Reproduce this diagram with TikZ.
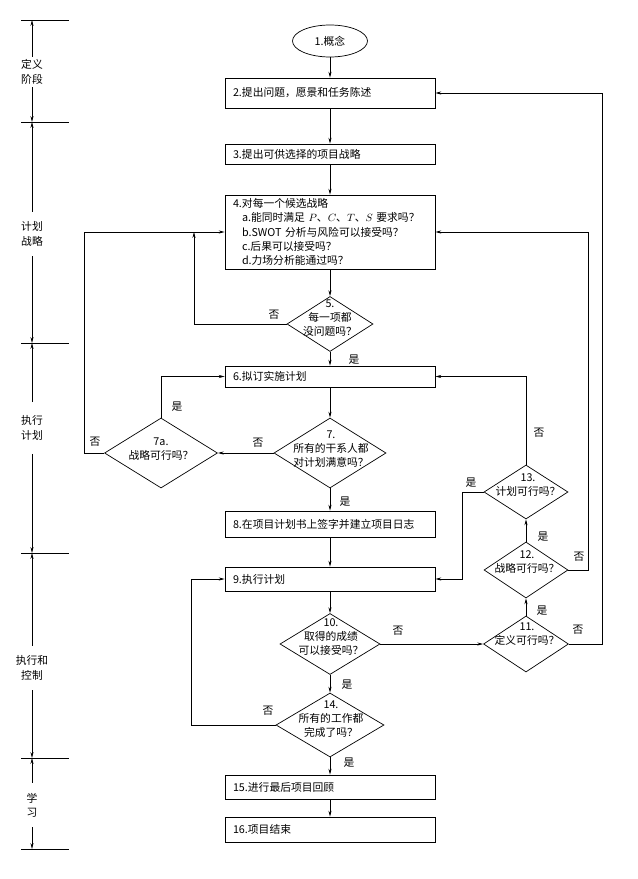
\documentclass[tikz,border=0pt]{standalone}
\usepackage{fontspec}
\setmainfont{Noto Sans CJK SC}
\usepackage{tikz}
\usetikzlibrary{arrows.meta,shapes.geometric}
\newdimen\px
\px=0.03cm

\begin{document}
\begin{tikzpicture}[x=0.03cm, y=-0.03cm, line width=0.6pt,
  font=\fontsize{9.2pt}{12.2pt}\selectfont,
  arr/.style={-{Stealth[length=5pt,width=2.6pt]}},
  box/.style={draw, rectangle, text width=194\px, inner xsep=8\px, inner ysep=0pt, align=left},
  dia/.style={draw, diamond, inner sep=0pt},
  txt/.style={align=center, inner sep=0pt},
  lbl/.style={inner sep=0pt},
  phase/.style={align=center, inner xsep=0pt, inner ysep=0pt, minimum height=44\px}]
\useasboundingbox (0,0) rectangle (637,879);

\foreach \y [count=\i from 0] in {20,122,343,553,758,849}
  {\draw (21,\y) -- (69,\y);
   \coordinate (p\i) at (32,\y);}
\node[phase, minimum height=30\px] (ph1) at (32,72) {定义\\阶段};
\node[phase] (ph2) at (32,234) {计划\\战略};
\node[phase, minimum height=51\px] (ph3) at (32,428) {执行\\计划};
\node[phase] (ph4) at (32,668) {执行和\\控制};
\node[phase] (ph5) at (32,805) {学\\习};
\foreach \a/\b in {ph1/p0, ph1/p1, ph2/p1, ph2/p2, ph3/p2, ph3/p3, ph4/p3, ph4/p4, ph5/p4, ph5/p5}
  \draw[arr] (\a) -- (\b);

\node[draw, ellipse, minimum width=75\px, minimum height=32\px, inner sep=0pt] (e1) at (330,41) {1.概念};
\node[box, minimum height=30\px] (b2) at (330,93) {2.提出问题，愿景和任务陈述};
\node[box, minimum height=20\px] (b3) at (330,154) {3.提出可供选择的项目战略};
\node[box, minimum height=74\px] (b4) at (330,232) {4.对每一个候选战略\\
  \hspace*{9\px}a.能同时满足 $P$、$C$、$T$、$S$ 要求吗？\\
  \hspace*{9\px}b.SWOT 分析与风险可以接受吗？\\
  \hspace*{9\px}c.后果可以接受吗？\\
  \hspace*{9\px}d.力场分析能通过吗？};
\node[box, minimum height=21\px] (b6) at (330,376.5) {6.拟订实施计划};
\node[box, minimum height=26\px] (b8) at (330,524) {8.在项目计划书上签字并建立项目日志};
\node[box, minimum height=24\px] (b9) at (330,579) {9.执行计划};
\node[box, minimum height=24\px] (b15) at (330,787) {15.进行最后项目回顾};
\node[box, minimum height=25\px] (b16) at (330,829.5) {16.项目结束};

\node[dia, minimum width=86\px, minimum height=55\px] (d5) at (330,324) {};
\node[txt] (t5) at (330,318) {5.\\每一项都\\没问题吗？};
\node[dia, minimum width=112\px, minimum height=70\px] (d7) at (330,453) {};
\node[txt] (t7) at (331,449) {7.\\所有的干系人都\\对计划满意吗？};
\node[dia, minimum width=113\px, minimum height=70\px] (d7a) at (161,453) {};
\node[txt] (t7a) at (161,449) {7a.\\战略可行吗？};
\node[dia, minimum width=100\px, minimum height=61\px] (d10) at (330,644) {};
\node[txt] (t10) at (331,637) {10.\\取得的成绩\\可以接受吗？};
\node[dia, minimum width=108\px, minimum height=64\px] (d14) at (330,725) {};
\node[txt] (t14) at (331,719) {14.\\所有的工作都\\完成了吗？};
\node[dia, minimum width=84\px, minimum height=54\px] (d13) at (526,492) {};
\node[txt] (t13) at (528,485) {13.\\计划可行吗？};
\node[dia, minimum width=84\px, minimum height=56\px] (d12) at (526,570) {};
\node[txt] (t12) at (527,562) {12.\\战略可行吗？};
\node[dia, minimum width=85\px, minimum height=56\px] (d11) at (526,644) {};
\node[txt] (t11) at (527,634) {11.\\定义可行吗？};

\foreach \a/\b in {e1/b2, b2/b3, b3/b4, b4/d5, d5/b6, b6/d7, d7/b8, b8/b9, b9/d10, d10/d14, d14/b15, b15/b16, d7/d7a, d10/d11, d11/d12, d12/d13}
  \draw[arr] (\a) -- (\b);

\coordinate (j5) at (194,232);
\draw[arr] (d5.west) -| (j5);
\draw[arr] (d7a.west) -- ++(-20,0) |- (b4.west);
\draw[arr] (d7a.north) |- (b6.west);
\draw[arr] (d13.north) |- (b6.east);
\draw[arr] (d13.west) -- ++(-21,0) |- (b9.east);
\draw[arr] (d12.east) -- ++(20,0) |- (b4.east);
\draw[arr] (d11.east) -- ++(33,0) |- (b2.east);
\draw[arr] (d14.west) -- ++(-84,0) |- (b9.west);

\node[lbl] (n5) at (274,315) {否};
\node[lbl] (y5) at (354,360) {是};
\node[lbl] (n7) at (258,443) {否};
\node[lbl] (y7) at (345,502) {是};
\node[lbl] (y7a) at (177,407) {是};
\node[lbl] (n7a) at (95,442) {否};
\node[lbl] (n13) at (539,433) {否};
\node[lbl] (y13) at (471,483) {是};
\node[lbl] (y12) at (543,537) {是};
\node[lbl] (n12) at (579,557) {否};
\node[lbl] (y11) at (542,611) {是};
\node[lbl] (n11) at (578,630) {否};
\node[lbl] (n10) at (398,631) {否};
\node[lbl] (y10) at (347,685) {是};
\node[lbl] (n14) at (268,711) {否};
\node[lbl] (y14) at (349,763) {是};
\end{tikzpicture}
\end{document}
